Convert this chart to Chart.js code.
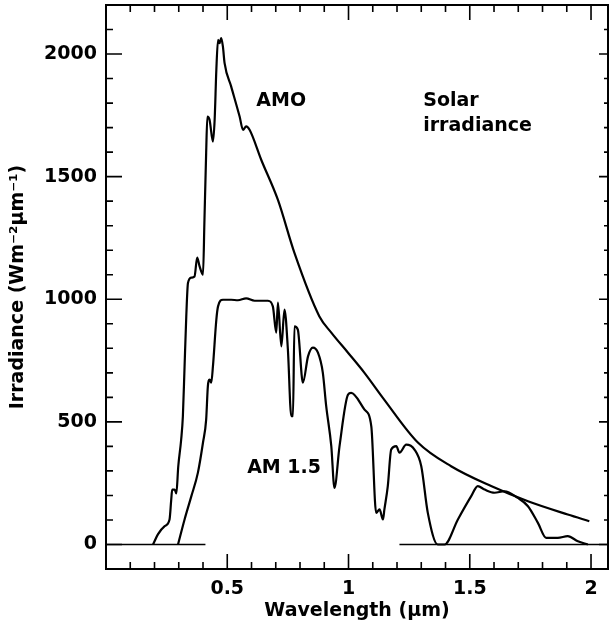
<!DOCTYPE html>
<html>
<head>
<meta charset="utf-8">
<script src="https://cdn.jsdelivr.net/npm/chart.js@4/dist/chart.umd.min.js"></script>
<style>
  body { margin: 0; background: #fff; }
  canvas { display: block; }
</style>
</head>
<body>
<canvas id="maincanvas" width="609" height="630"></canvas>
<script>
// values (wavelength in um, irradiance in W m-2 um-1)
var amoWavelength = [0.194, 0.214, 0.242, 0.262, 0.269, 0.273, 0.283, 0.290, 0.298, 0.310, 0.317, 0.324, 0.331, 0.338, 0.352, 0.365, 0.376, 0.386, 0.400, 0.406, 0.413, 0.418, 0.427, 0.441, 0.448, 0.455, 0.462, 0.468, 0.475, 0.482, 0.489, 0.516, 0.551, 0.565, 0.578, 0.592, 0.640, 0.709, 0.777, 0.880, 0.929, 0.998, 1.065, 1.147, 1.286, 1.423, 1.588, 1.740, 1.904, 1.993];
var amoIrradiance = [0, 41, 75, 102, 183, 224, 224, 208, 319, 428, 523, 727, 930, 1066, 1088, 1093, 1170, 1134, 1100, 1324, 1597, 1745, 1732, 1643, 1732, 1936, 2058, 2044, 2065, 2031, 1963, 1868, 1745, 1691, 1705, 1691, 1569, 1405, 1189, 930, 864, 782, 701, 591, 416, 319, 238, 176, 122, 95];

var am15Wavelength = [0.297, 0.324, 0.352, 0.379, 0.400, 0.413, 0.420, 0.427, 0.434, 0.441, 0.455, 0.462, 0.482, 0.516, 0.544, 0.578, 0.613, 0.668, 0.688, 0.702, 0.709, 0.723, 0.736, 0.750, 0.764, 0.771, 0.777, 0.791, 0.812, 0.833, 0.853, 0.874, 0.894, 0.908, 0.929, 0.942, 0.963, 0.998, 1.011, 1.066, 1.094, 1.114, 1.128, 1.142, 1.148, 1.162, 1.176, 1.197, 1.210, 1.238, 1.272, 1.300, 1.327, 1.368, 1.396, 1.451, 1.506, 1.533, 1.561, 1.602, 1.643, 1.698, 1.740, 1.781, 1.815, 1.863, 1.904, 1.946, 1.987];
var am15Irradiance = [0, 102, 197, 293, 416, 509, 645, 672, 660, 727, 917, 971, 998, 998, 996, 1004, 994, 994, 971, 864, 986, 808, 958, 795, 523, 523, 890, 876, 660, 767, 803, 782, 701, 564, 401, 231, 401, 611, 618, 550, 482, 129, 143, 102, 143, 238, 387, 401, 374, 407, 387, 319, 129, 0, 0, 102, 197, 238, 224, 211, 217, 190, 156, 88, 27, 27, 34, 13, 0];

var baselineWavelength = [0, 0.41, null, 1.21, 2.07];
var baselineIrradiance = [0, 0, null, 0, 0];

var xTickValues = [0.5, 1, 1.5, 2];
var xTickLabels = ["0.5", "1", "1.5", "2"];
var yTickValues = [0, 500, 1000, 1500, 2000];
var yTickLabels = ["0", "500", "1000", "1500", "2000"];

var curveLabels = ["AMO", "Solar", "irradiance", "AM 1.5"];
var curveLabelAt = [[0.620, 1789], [1.308, 1790], [1.308, 1687], [0.582, 293]];

function toPoints(xs, ys) {
    return xs.map(function(x, i){ return x === null ? {x: null, y: null} : {x: x, y: ys[i]}; });
}

function tickLabel(values, labels, v) {
    for (var i = 0; i < values.length; i++) {
        if (Math.abs(values[i] - v) < 1e-6) return labels[i];
    }
    return "";
}

var FONT = {family: "'DejaVu Sans'", size: 19, weight: "bold", lineHeight: 1.2};

// frame with inward ticks on all four sides + curve names
var framePlugin = {
    id: "frame",
    afterDraw: function(chart) {
        var ctx = chart.ctx, a = chart.chartArea;
        var xs = chart.scales.x, ys = chart.scales.y;
        ctx.save();
        ctx.strokeStyle = "#000";
        ctx.lineWidth = 2;
        ctx.strokeRect(a.left, a.top, a.right - a.left, a.bottom - a.top);
        ctx.lineWidth = 1.6;
        ctx.beginPath();
        xs.ticks.forEach(function(t){
            var v = t.value;
            if (Math.abs(v * 10 - Math.round(v * 10)) > 1e-6) return;
            var major = Math.abs(v * 2 - Math.round(v * 2)) < 1e-6;
            var p = xs.getPixelForValue(v);
            ctx.moveTo(p, a.bottom); ctx.lineTo(p, a.bottom - (major ? 15 : 7));
            ctx.moveTo(p, a.top); ctx.lineTo(p, a.top + (major ? 15 : 7));
        });
        ys.ticks.forEach(function(t){
            var v = t.value;
            if (Math.abs(v / 100 - Math.round(v / 100)) > 1e-6) return;
            var major = Math.abs(v / 500 - Math.round(v / 500)) < 1e-6;
            var p = ys.getPixelForValue(v);
            ctx.moveTo(a.left, p); ctx.lineTo(a.left + (major ? 16 : 7), p);
            ctx.moveTo(a.right, p); ctx.lineTo(a.right - (major ? 9 : 4), p);
        });
        ctx.stroke();

        ctx.fillStyle = "#000";
        ctx.font = "bold 19px 'DejaVu Sans'";
        ctx.textAlign = "left";
        ctx.textBaseline = "alphabetic";
        curveLabels.forEach(function(txt, i){
            ctx.fillText(txt, xs.getPixelForValue(curveLabelAt[i][0]), ys.getPixelForValue(curveLabelAt[i][1]));
        });
        ctx.restore();
    }
};

var mainchart = document.getElementById("maincanvas").getContext("2d");
var mainLineChart = new Chart(mainchart, {
    type: "line",
    data: {
        datasets: [{
            label: "AMO",
            data: toPoints(amoWavelength, amoIrradiance),
            borderColor: "#000",
            borderWidth: 2.2,
            pointRadius: 0,
            cubicInterpolationMode: "monotone",
            fill: false
        }, {
            label: "AM 1.5",
            data: toPoints(am15Wavelength, am15Irradiance),
            borderColor: "#000",
            borderWidth: 2.2,
            pointRadius: 0,
            cubicInterpolationMode: "monotone",
            fill: false
        }, {
            label: "baseline",
            data: toPoints(baselineWavelength, baselineIrradiance),
            borderColor: "#000",
            borderWidth: 1.5,
            pointRadius: 0,
            spanGaps: false,
            fill: false
        }]
    },
    options: {
        responsive: false,
        animation: false,
        layout: { padding: { top: 5, right: 1, left: 0, bottom: 0 } },
        plugins: {
            legend: { display: false },
            tooltip: { enabled: false }
        },
        scales: {
            x: {
                type: "linear",
                min: 0,
                max: 2.07,
                grid: { display: false, drawTicks: false },
                border: { display: false },
                ticks: {
                    stepSize: 0.1,
                    includeBounds: false,
                    autoSkip: false,
                    maxRotation: 0,
                    padding: 9,
                    color: "#000",
                    font: FONT,
                    callback: function(v){ return tickLabel(xTickValues, xTickLabels, v); }
                },
                title: {
                    display: true,
                    text: "Wavelength (µm)",
                    color: "#000",
                    font: FONT,
                    padding: { top: 0, bottom: 8 }
                },
                afterFit: function(scale){
                    scale.height = 61;
                    scale.paddingLeft = 0;
                    scale.paddingRight = 0;
                }
            },
            y: {
                min: -100,
                max: 2200,
                grid: { display: false, drawTicks: false },
                border: { display: false },
                ticks: {
                    stepSize: 100,
                    autoSkip: false,
                    padding: 9,
                    color: "#000",
                    font: FONT,
                    callback: function(v){ return tickLabel(yTickValues, yTickLabels, v); }
                },
                title: {
                    display: true,
                    text: "Irradiance (Wm⁻²µm⁻¹)",
                    color: "#000",
                    font: FONT,
                    padding: { top: 7, bottom: 0 }
                },
                afterFit: function(scale){
                    scale.width = 106;
                    scale.paddingTop = 0;
                    scale.paddingBottom = 0;
                }
            }
        }
    },
    plugins: [framePlugin]
});
</script>
</body>
</html>
